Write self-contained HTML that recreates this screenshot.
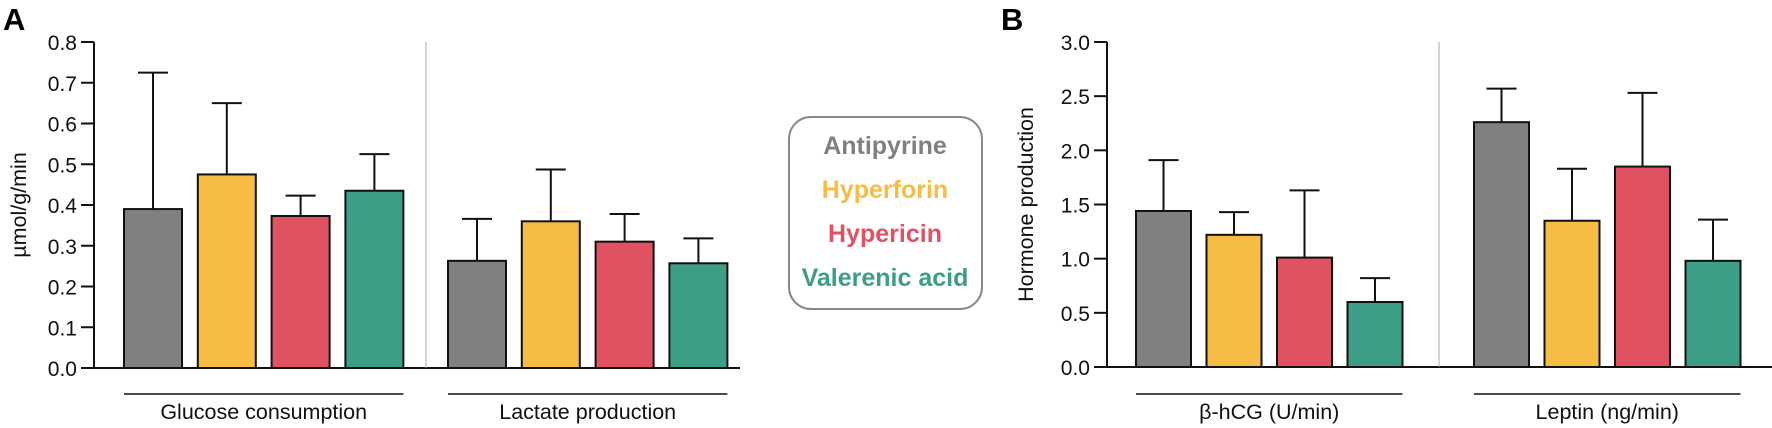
<!DOCTYPE html>
<html><head><meta charset="utf-8"><style>
body{margin:0;background:#fff;}
svg{display:block;font-family:"Liberation Sans",Arial,sans-serif;}
</style></head><body>
<svg id="c" width="1772" height="428" viewBox="0 0 1772 428" xmlns="http://www.w3.org/2000/svg">
<text x="3" y="30" font-size="31" font-weight="bold">A</text>
<text x="1001" y="30" font-size="31" font-weight="bold">B</text>
<g>
<rect x="789" y="117" width="193" height="192" rx="22" fill="#fff" stroke="#888" stroke-width="2"/>
<text x="885" y="154" text-anchor="middle" font-size="25" font-weight="bold" fill="#808080">Antipyrine</text>
<text x="885" y="198" text-anchor="middle" font-size="25" font-weight="bold" fill="#f7bc43">Hyperforin</text>
<text x="885" y="242" text-anchor="middle" font-size="25" font-weight="bold" fill="#e05262">Hypericin</text>
<text x="885" y="286" text-anchor="middle" font-size="25" font-weight="bold" fill="#3c9e87">Valerenic acid</text>
</g>
<g id="pa"></g><g id="pb"></g>
</svg>
<script>
const colors=["#808080","#f7bc43","#e05262","#3c9e87"];
const aGroups=["Glucose consumption","Lactate production"];
const aMeans=[[0.39,0.475,0.373,0.435],[0.263,0.36,0.31,0.257]];
const aErr=[[0.725,0.65,0.423,0.525],[0.366,0.487,0.378,0.318]];
const aTicks=["0.0","0.1","0.2","0.3","0.4","0.5","0.6","0.7","0.8"];
const bGroups=["β-hCG (U/min)","Leptin (ng/min)"];
const bMeans=[[1.44,1.22,1.01,0.60],[2.26,1.35,1.85,0.98]];
const bErr=[[1.91,1.43,1.63,0.82],[2.57,1.83,2.53,1.36]];
const bTicks=["0.0","0.5","1.0","1.5","2.0","2.5","3.0"];
const NS="http://www.w3.org/2000/svg";
function mk(p,t,a){const e=document.createElementNS(NS,t);for(const k in a)e.setAttribute(k,a[k]);p.appendChild(e);return e;}
function panel(g,cfg){
 const y=v=>cfg.y0-(v/cfg.max)*(cfg.y0-cfg.y1);
 mk(g,'line',{x1:cfg.ax,y1:cfg.y1,x2:cfg.ax,y2:cfg.y0,stroke:'#111','stroke-width':2});
 mk(g,'line',{x1:cfg.ax-13,y1:cfg.y0,x2:cfg.xend,y2:cfg.y0,stroke:'#111','stroke-width':2});
 cfg.ticks.forEach(t=>{const v=parseFloat(t);
  mk(g,'line',{x1:cfg.ax-13,y1:y(v),x2:cfg.ax,y2:y(v),stroke:'#111','stroke-width':2});
  const tx=mk(g,'text',{x:cfg.ax-17,y:y(v)+8,'text-anchor':'end','font-size':21,fill:'#111'});tx.textContent=t;
  
  });
 const yt=mk(g,'text',{transform:`translate(${cfg.tx},${(cfg.y0+cfg.y1)/2}) rotate(-90)`,'text-anchor':'middle','font-size':21.5,fill:'#111'});
 yt.textContent=cfg.title;
 
 
 mk(g,'line',{x1:cfg.sep,y1:cfg.y1,x2:cfg.sep,y2:cfg.y0,stroke:'#aaa','stroke-width':1});
 cfg.groups.forEach((name,gi)=>{
  const gs=cfg.gstart[gi],pitch=cfg.pitch,w=cfg.bw;
  cfg.means[gi].forEach((m,i)=>{
   const x=gs+i*pitch;
   const el=mk(g,'line',{x1:x+w/2,y1:y(cfg.err[gi][i]),x2:x+w/2,y2:y(m),stroke:'#111','stroke-width':2});
   
   
   const cap=mk(g,'line',{x1:x+w/2-15,y1:y(cfg.err[gi][i]),x2:x+w/2+15,y2:y(cfg.err[gi][i]),stroke:'#111','stroke-width':2});
   
   
   const r=mk(g,'rect',{x:x,y:y(m),width:w,height:cfg.y0-y(m),fill:colors[i],stroke:'#111','stroke-width':2});
   
   
  });
  const x2=gs+3*pitch+w;
  mk(g,'line',{x1:gs,y1:394,x2:x2,y2:394,stroke:'#111','stroke-width':1.5});
  const lt=mk(g,'text',{x:(gs+x2)/2,y:419,'text-anchor':'middle','font-size':21.5,fill:'#111'});lt.textContent=name;
  
  
 });
}
panel(document.getElementById('pa'),{ax:94,y0:368,y1:42,max:0.8,xend:740,ticks:aTicks,title:"µmol/g/min",tx:26,sep:426,
 groups:aGroups,means:aMeans,err:aErr,gstart:[124,448],pitch:73.8,bw:58});
panel(document.getElementById('pb'),{ax:1107,y0:367,y1:42,max:3.0,xend:1772,ticks:bTicks,title:"Hormone production",tx:1033,sep:1439,
 groups:bGroups,means:bMeans,err:bErr,gstart:[1136,1474],pitch:70.5,bw:55});
</script>
</body></html>
